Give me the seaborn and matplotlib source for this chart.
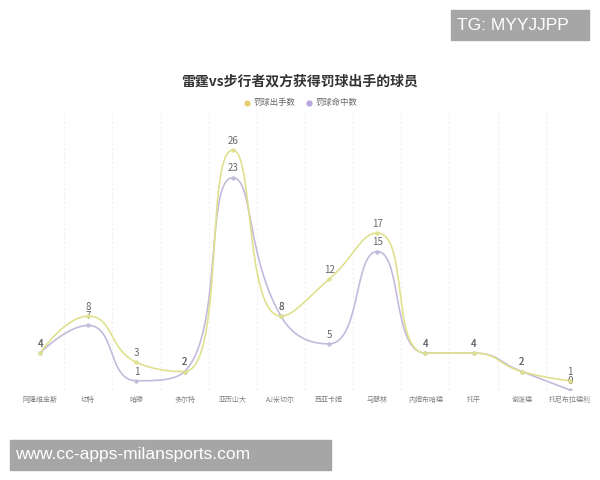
import numpy as np
import pandas as pd
import seaborn as sns
import matplotlib.pyplot as plt
from matplotlib.lines import Line2D
from matplotlib.patches import Rectangle

players = ["阿隆维金斯", "切特", "哈滕", "多尔特", "亚历山大", "AJ米切尔",
           "西亚卡姆", "马瑟林", "内姆布哈德", "托平", "谢泼德", "托尼布拉德利"]
attempts = [4, 8, 3, 2, 26, 8, 12, 17, 4, 4, 2, 1]
made = [4, 7, 1, 2, 23, 8, 5, 15, 4, 4, 2, 0]

series_names = ["罚球出手数", "罚球命中数"]
line_colors = ["#dfe18e", "#c4badb"]
dot_colors = ["#e8cf72", "#b9a8de"]

sns.set_style("white")
plt.rcParams["font.family"] = ["Noto Sans CJK SC", "DejaVu Sans"]

# pixel per unit, used only for the smoothing (echarts-like)
px_x, px_y = 48.2, 9.23


def clamp(v, a, b):
    return np.minimum(np.maximum(v, np.minimum(a, b)), np.maximum(a, b))


def smooth_curve(ys, smooth=0.5, n=30):
    # echarts 5 style smoothing: control points kept inside neighbour ranges
    pts = np.column_stack([np.arange(len(ys)) * px_x, np.array(ys, float) * px_y])
    cps_in = [p.copy() for p in pts]
    cps_out = [p.copy() for p in pts]
    for i in range(1, len(pts) - 1):
        prev, p, nxt = pts[i - 1], pts[i], pts[i + 1]
        lp = np.linalg.norm(p - prev)
        ln = np.linalg.norm(nxt - p)
        r = ln / (lp + ln)
        nc = p + (nxt - prev) * smooth * r
        nc = clamp(nc, p, nxt)
        v = nc - p
        pc = p - v * lp / ln
        pc = clamp(pc, prev, p)
        v = p - pc
        nc = p + v * ln / lp
        cps_in[i] = pc
        cps_out[i] = nc
    out = []
    t = np.linspace(0, 1, n)[:, None]
    for i in range(len(pts) - 1):
        p0, c1, c2, p1 = pts[i], cps_out[i], cps_in[i + 1], pts[i + 1]
        seg = ((1 - t) ** 3) * p0 + 3 * ((1 - t) ** 2) * t * c1 + 3 * (1 - t) * t ** 2 * c2 + t ** 3 * p1
        out.append(seg if i == 0 else seg[1:])
    out = np.vstack(out)
    return out[:, 0] / px_x, out[:, 1] / px_y


fig = plt.figure(figsize=(6, 4.8), dpi=100)
ax = fig.add_axes([16 / 600, 1 - 390 / 480, 578 / 600, 277 / 480])

for vals, name, lc, dc in [(made, series_names[1], line_colors[1], dot_colors[1]),
                           (attempts, series_names[0], line_colors[0], dot_colors[0])]:
    sx, sy = smooth_curve(vals)
    curve = pd.DataFrame({"x": sx, "y": sy})
    sns.lineplot(data=curve, x="x", y="y", ax=ax, color=lc, linewidth=1.2, sort=False)
    pts = pd.DataFrame({"x": np.arange(len(vals)), "y": vals})
    sns.scatterplot(data=pts, x="x", y="y", ax=ax, color=lc, s=8, edgecolor=lc, zorder=3)
    for i, v in enumerate(vals):
        ax.annotate(str(v), (i, v), xytext=(0, 3), textcoords="offset points",
                    ha="center", va="bottom", fontsize=7, color="#666666")

ax.set_xlim(-0.5, len(players) - 0.5)
ax.set_ylim(0, 30)
ax.set_xticks(range(len(players)))
ax.set_xticklabels(players, fontsize=5, color="#808080")
ax.set_yticks([])
ax.tick_params(axis="x", length=0, pad=4)
ax.set_xlabel("")
ax.set_ylabel("")
for k in range(len(players) - 1):
    ax.axvline(k + 0.5, color="#efefef", linewidth=0.8, linestyle=(0, (2, 2)), zorder=0)
for s in ax.spines.values():
    s.set_visible(False)

fig.text(0.5, 1 - 82 / 480, "雷霆vs步行者双方获得罚球出手的球员", ha="center", va="center",
         fontsize=10, fontweight="bold", color="#333333")

handles = [Line2D([], [], marker="o", linestyle="", markersize=3.5, color=dot_colors[0]),
           Line2D([], [], marker="o", linestyle="", markersize=3.5, color=dot_colors[1])]
fig.legend(handles, series_names, loc="center", bbox_to_anchor=(0.5, 1 - 103 / 480), ncol=2,
           frameon=False, fontsize=6, labelcolor="#666666", handletextpad=0.2,
           columnspacing=1.2, handlelength=1)

# watermark boxes
fig.patches.append(Rectangle((451 / 600, 1 - 40 / 480), 138 / 600, 30 / 480,
                             transform=fig.transFigure, color="#a6a6a6", zorder=5))
fig.text(457 / 600, 1 - 25 / 480, "TG: MYYJJPP", ha="left", va="center",
         fontsize=12.5, color="white", zorder=6, family=["Liberation Sans", "DejaVu Sans"])
fig.patches.append(Rectangle((10 / 600, 1 - 470 / 480), 321 / 600, 30 / 480,
                             transform=fig.transFigure, color="#a6a6a6", zorder=5))
fig.text(15 / 600, 1 - 455 / 480, "www.cc-apps-milansports.com", ha="left", va="center",
         fontsize=12.5, color="white", zorder=6, family=["Liberation Sans", "DejaVu Sans"])

fig.savefig("out.png", dpi=100, facecolor="white")
